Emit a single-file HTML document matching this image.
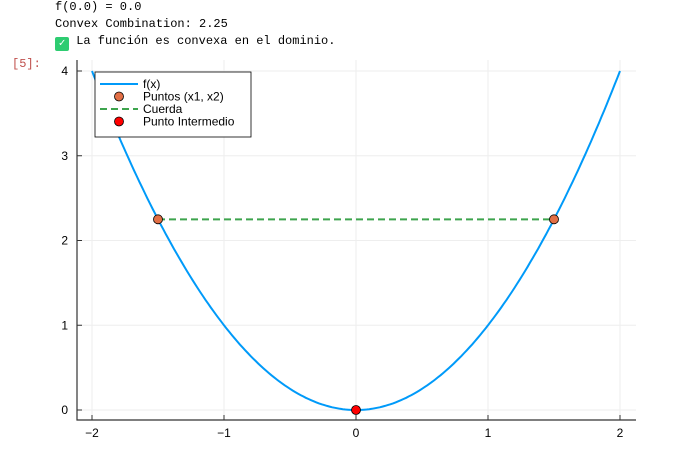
<!DOCTYPE html>
<html><head><meta charset="utf-8"><style>
body{margin:0;width:691px;height:469px;background:#fff;overflow:hidden;position:relative;font-family:"Liberation Sans",sans-serif}
.mono{position:absolute;font-family:"Liberation Mono","DejaVu Sans Mono",monospace;font-size:12px;color:#000;white-space:pre}
</style></head><body>
<div class="mono" style="left:55px;top:0px">f(0.0) = 0.0</div>
<div class="mono" style="left:55px;top:17px">Convex Combination: 2.25</div>
<div class="mono" style="left:55px;top:34px"><span style="display:inline-block;width:14px;height:14px;background:#2ecc71;border-radius:2px;color:#fff;font-size:11px;text-align:center;line-height:14px;vertical-align:-2px">✓</span> La función es convexa en el dominio.</div>
<div class="mono" style="left:12px;top:57px;color:#c0504d">[5]:</div>
<svg id="chart" width="691" height="469" style="position:absolute;left:0;top:0">
<g id="grid"></g><g id="axes"></g><g id="series"></g><g id="legend"></g>
</svg>
<script>
const xTicks=[-2,-1,0,1,2];
const yTicks=[0,1,2,3,4];
const points1X=[-1.5,1.5];
const points1Y=[2.25,2.25];
const chordX=[-1.5,1.5];
const chordY=[2.25,2.25];
const midX=[0];
const midY=[0];
const ns="http://www.w3.org/2000/svg";
const X=v=>356+132*v, Y=v=>410-84.75*v;
function mk(p,t,a){const e=document.createElementNS(ns,t);for(const k in a)e.setAttribute(k,a[k]);document.getElementById(p).appendChild(e);return e;}
xTicks.forEach(t=>{
 let g=mk('grid','line',{x1:X(t),x2:X(t),y1:60,y2:420,stroke:'#eee'});
 
 
 let k=mk('axes','line',{x1:X(t),x2:X(t),y1:420,y2:415,stroke:'#333'});
 
 
 let l=mk('axes','text',{x:X(t),y:437,'text-anchor':'middle','font-size':12,fill:'#000'});
 l.textContent=t<0?'−'+(-t):t;
 
 
});
yTicks.forEach(t=>{
 let g=mk('grid','line',{x1:77,x2:636,y1:Y(t),y2:Y(t),stroke:'#eee'});
 
 
 let k=mk('axes','line',{x1:77,x2:82,y1:Y(t),y2:Y(t),stroke:'#333'});
 
 
 let l=mk('axes','text',{x:68,y:Y(t)+4,'text-anchor':'end','font-size':12,fill:'#000'});
 l.textContent=t;
 
 
});
let sp=mk('axes','path',{d:'M77 60V420H636',fill:'none',stroke:'#333','stroke-width':1.2});


let d='';for(let i=0;i<=200;i++){const v=-2+4*i/200;d+=(i?'L':'M')+X(v).toFixed(1)+' '+Y(v*v).toFixed(1);}
let c=mk('series','path',{d:d,fill:'none',stroke:'#009af9','stroke-width':2});


let ch=mk('series','line',{x1:X(chordX[0]),y1:Y(chordY[0]),x2:X(chordX[1]),y2:Y(chordY[1]),stroke:'#3da44d','stroke-width':2,'stroke-dasharray':'7 4'});


points1X.forEach((v,i)=>{let p=mk('series','circle',{cx:X(v),cy:Y(points1Y[i]),r:4.5,fill:'#e26f46',stroke:'#000','stroke-width':0.8});
 
 });
midX.forEach((v,i)=>{let p=mk('series','circle',{cx:X(v),cy:Y(midY[i]),r:4.5,fill:'#f00',stroke:'#000','stroke-width':0.8});
 
 });
let lb=mk('legend','rect',{x:95,y:72,width:156,height:65,fill:'#fff',stroke:'#000','stroke-width':0.8});


const items=[['f(x)','line'],['Puntos (x1, x2)','o'],['Cuerda','dash'],['Punto Intermedio','r']];
items.forEach((it,i)=>{const y=84+i*12.5;
 if(it[1]=='line'){let s=mk('legend','line',{x1:100,x2:138,y1:y,y2:y,stroke:'#009af9','stroke-width':2});}
 else if(it[1]=='dash'){let s=mk('legend','line',{x1:100,x2:138,y1:y,y2:y,stroke:'#3da44d','stroke-width':2,'stroke-dasharray':'7 4'});}
 else{let s=mk('legend','circle',{cx:119,cy:y,r:4.5,fill:it[1]=='o'?'#e26f46':'#f00',stroke:'#000','stroke-width':0.8});}
 let t=mk('legend','text',{x:143,y:y+4,'font-size':12,fill:'#000'});t.textContent=it[0];
 
 
});
</script>
</body></html>
